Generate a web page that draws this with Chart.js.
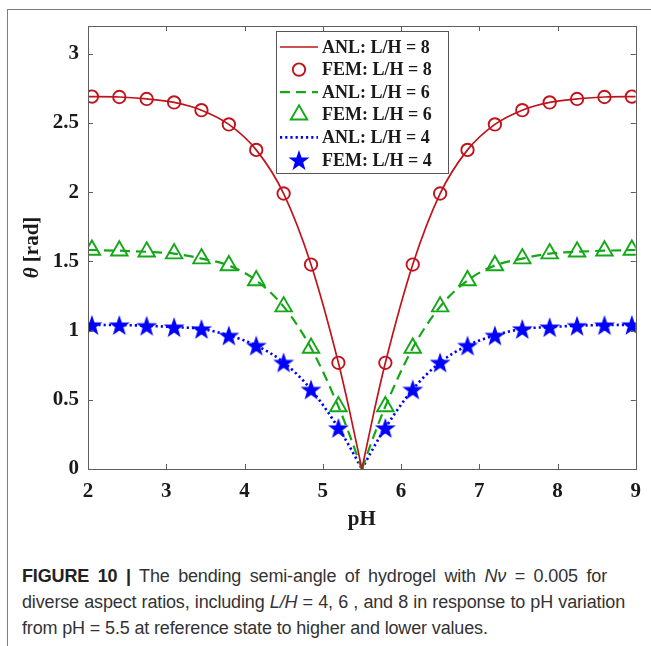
<!DOCTYPE html>
<html>
<head>
<meta charset="utf-8">
<script src="https://cdn.jsdelivr.net/npm/chart.js@4"></script>
<style>
  html, body { margin: 0; padding: 0; background: #fff; }
  body { width: 651px; height: 646px; position: relative; overflow: hidden; }
  .frame { position: absolute; left: 7px; top: 9px; width: 700px; height: 700px;
           border-left: 1.5px solid #7d7d7d; border-top: 1.5px solid #7d7d7d; }
  #wrap { position: absolute; left: 0; top: 0; width: 651px; height: 545px; }
  .caption { position: absolute; left: 22px; top: 563px; width: 603px; color: #333;
             font-family: "Liberation Sans Narrow", "Arial Narrow", sans-serif;
             font-size: 18px; line-height: 26px; letter-spacing: -0.15px; }
  .caption div { height: 26px; }
  .caption .j { text-align: justify; text-align-last: justify; }
  .caption .first { width: 585px; }
  .caption b { color: #222; }
</style>
</head>
<body>
<div class="frame"></div>
<div id="wrap"><canvas id="theta" width="651" height="545"></canvas></div>
<div class="caption">
  <div class="j first"><b>FIGURE 10 |</b> The bending semi-angle of hydrogel with <i>Nν</i> = 0.005 for</div>
  <div class="j">diverse aspect ratios, including <i>L/H</i> = 4, 6 , and 8 in response to pH variation</div>
  <div>from pH = 5.5 at reference state to higher and lower values.</div>
</div>
<script>
// FEM sample points (pH) and bending semi-angle (rad)
const femPH = [2.05, 2.4, 2.75, 3.1, 3.45, 3.8, 4.15, 4.5, 4.85, 5.2,
               5.8, 6.15, 6.5, 6.85, 7.2, 7.55, 7.9, 8.25, 8.6, 8.95];
const fem8 = [2.69, 2.687, 2.673, 2.648, 2.592, 2.489, 2.305, 1.99, 1.477, 0.767,
              0.767, 1.477, 1.99, 2.305, 2.489, 2.592, 2.648, 2.673, 2.687, 2.69];
const fem6 = [1.582, 1.577, 1.569, 1.556, 1.52, 1.47, 1.362, 1.173, 0.874, 0.452,
              0.452, 0.874, 1.173, 1.362, 1.47, 1.52, 1.556, 1.569, 1.577, 1.582];
const fem4 = [1.041, 1.04, 1.035, 1.025, 1.012, 0.965, 0.892, 0.77, 0.575, 0.297,
              0.297, 0.575, 0.77, 0.892, 0.965, 1.012, 1.025, 1.035, 1.04, 1.041];

// analytical curves
const anlPH = [2, 2.4, 2.75, 3.1, 3.45, 3.8, 4.15, 4.5, 4.85, 5.2, 5.35, 5.5,
               5.65, 5.8, 6.15, 6.5, 6.85, 7.2, 7.55, 7.9, 8.25, 8.6, 9];
const anl8 = [2.69, 2.687, 2.673, 2.648, 2.592, 2.489, 2.305, 1.99, 1.477, 0.767, 0.4, 0,
              0.4, 0.767, 1.477, 1.99, 2.305, 2.489, 2.592, 2.648, 2.673, 2.687, 2.69];
const anl6 = [1.582, 1.577, 1.569, 1.556, 1.52, 1.47, 1.362, 1.173, 0.874, 0.452, 0.235, 0,
              0.235, 0.452, 0.874, 1.173, 1.362, 1.47, 1.52, 1.556, 1.569, 1.577, 1.582];
const anl4 = [1.041, 1.04, 1.035, 1.025, 1.012, 0.965, 0.892, 0.77, 0.575, 0.297, 0.155, 0,
              0.155, 0.297, 0.575, 0.77, 0.892, 0.965, 1.012, 1.025, 1.035, 1.04, 1.041];

const xTicks = [2, 3, 4, 5, 6, 7, 8, 9];
const yTicks = [0, 0.5, 1, 1.5, 2, 2.5, 3];
const legendLabels = ['ANL: L/H = 8', 'FEM: L/H = 8', 'ANL: L/H = 6',
                      'FEM: L/H = 6', 'ANL: L/H = 4', 'FEM: L/H = 4'];

const RED = '#c0141c', GREEN = '#14a818', BLUE = '#0000ff';
const serif = 'Liberation Serif, Times New Roman, serif';

function pts(xs, ys) {
  return xs.map((v, i) => ({x: v, y: ys[i]}));
}
// left and right branches meet at the pH = 5.5 cusp
function branch(xs, ys, left) {
  return pts(xs, ys).filter(p => left ? p.x <= 5.5 : p.x >= 5.5);
}

// filled five-pointed star marker
function starMarker(r, color) {
  const c = document.createElement('canvas');
  const s = Math.ceil(2 * r + 2);
  c.width = s; c.height = s;
  const g = c.getContext('2d');
  g.translate(s / 2, s / 2 + 1);
  g.beginPath();
  for (let k = 0; k < 10; k++) {
    const rr = k % 2 ? r * 0.4 : r;
    const a = -Math.PI / 2 + k * Math.PI / 5;
    g.lineTo(rr * Math.cos(a), rr * Math.sin(a));
  }
  g.closePath();
  g.fillStyle = color;
  g.fill();
  return c;
}
const star = starMarker(11, BLUE);

function anlSet(label, xs, ys, left, color, width, dash) {
  return {
    label: label, data: branch(xs, ys, left), showLine: true,
    borderColor: color, borderWidth: width, borderDash: dash,
    pointRadius: 0, cubicInterpolationMode: 'monotone', fill: false
  };
}
function femSet(label, ys, style, radius, color) {
  return {
    label: label, data: pts(femPH, ys), showLine: false,
    pointStyle: style, pointRadius: radius, pointBorderWidth: 1.9,
    pointBorderColor: color, pointBackgroundColor: 'rgba(0,0,0,0)', borderColor: color
  };
}

const datasets = [
  anlSet(legendLabels[0], anlPH, anl8, true, RED, 1.7, []),
  femSet(legendLabels[1], fem8, 'circle', 6.2, RED),
  anlSet(legendLabels[2], anlPH, anl6, true, GREEN, 2.2, [10, 6]),
  femSet(legendLabels[3], fem6, 'triangle', 9.5, GREEN),
  anlSet(legendLabels[4], anlPH, anl4, true, BLUE, 2.6, [2.2, 3]),
  femSet(legendLabels[5], fem4, star, 11, BLUE),
  anlSet('', anlPH, anl8, false, RED, 1.7, []),
  anlSet('', anlPH, anl6, false, GREEN, 2.2, [10, 6]),
  anlSet('', anlPH, anl4, false, BLUE, 2.6, [2.2, 3])
];

// axes box with inward ticks, the y title and the legend inside the plot
const boxAndLegend = {
  id: 'boxAndLegend',
  afterDraw(chart) {
    const {ctx, chartArea: a, scales: {x, y}} = chart;
    ctx.save();
    ctx.strokeStyle = '#5e5e5e';
    ctx.lineWidth = 1;
    ctx.setLineDash([]);
    ctx.strokeRect(Math.round(a.left) + 0.5, Math.round(a.top) + 0.5,
                   Math.round(a.right - a.left), Math.round(a.bottom - a.top));
    const tl = 5;
    ctx.beginPath();
    x.ticks.forEach(t => {
      const px = Math.round(x.getPixelForValue(t.value)) + 0.5;
      ctx.moveTo(px, a.bottom); ctx.lineTo(px, a.bottom - tl);
      ctx.moveTo(px, a.top); ctx.lineTo(px, a.top + tl);
    });
    y.ticks.forEach(t => {
      const py = Math.round(y.getPixelForValue(t.value)) + 0.5;
      ctx.moveTo(a.left, py); ctx.lineTo(a.left + tl, py);
      ctx.moveTo(a.right, py); ctx.lineTo(a.right - tl, py);
    });
    ctx.stroke();

    // y axis title: italic theta, upright unit
    ctx.save();
    ctx.translate(33, (a.top + a.bottom) / 2);
    ctx.rotate(-Math.PI / 2);
    ctx.fillStyle = '#1a1a1a';
    ctx.textBaseline = 'middle';
    const f1 = 'italic bold 21px ' + serif, f2 = 'bold 21px ' + serif;
    ctx.font = f1; const w1 = ctx.measureText('θ').width;
    ctx.font = f2; const w2 = ctx.measureText(' [rad]').width;
    let sx = -(w1 + w2) / 2;
    ctx.font = f1; ctx.fillText('θ', sx, 0);
    ctx.font = f2; ctx.fillText(' [rad]', sx + w1, 0);
    ctx.restore();

    // legend
    const lx = a.left + 188, ly = a.top + 5, lw = 172, lh = 142;
    ctx.fillStyle = '#fff';
    ctx.fillRect(lx, ly, lw, lh);
    ctx.strokeStyle = '#555';
    ctx.strokeRect(lx + 0.5, ly + 0.5, lw, lh);
    ctx.font = 'bold 18px ' + serif;
    ctx.textBaseline = 'middle';
    legendLabels.forEach((lab, i) => {
      const ds = chart.data.datasets[i];
      const cy = ly + 16 + i * 22.6;
      const cx = lx + 23;
      if (ds.showLine) {
        ctx.strokeStyle = ds.borderColor;
        ctx.lineWidth = ds.borderWidth;
        ctx.setLineDash(ds.borderDash);
        ctx.beginPath();
        ctx.moveTo(lx + 4, cy); ctx.lineTo(lx + 42, cy);
        ctx.stroke();
        ctx.setLineDash([]);
      } else {
        ctx.strokeStyle = ds.pointBorderColor;
        ctx.fillStyle = ds.pointBackgroundColor;
        ctx.lineWidth = ds.pointBorderWidth;
        Chart.helpers.drawPoint(ctx, {
          pointStyle: ds.pointStyle, radius: ds.pointRadius,
          borderWidth: ds.pointBorderWidth, rotation: 0
        }, cx, cy);
      }
      ctx.fillStyle = '#1a1a1a';
      ctx.fillText(lab, lx + 46, cy + 1);
    });
    ctx.restore();
  }
};

const tickFont = {family: serif, weight: 'bold', size: 21};

new Chart(document.getElementById('theta'), {
  type: 'scatter',
  data: {datasets: datasets},
  options: {
    responsive: false,
    animation: false,
    layout: {padding: {left: 0, right: 15, top: 26, bottom: 13}},
    plugins: {legend: {display: false}, tooltip: {enabled: false}},
    scales: {
      x: {
        type: 'linear', min: 2, max: 9,
        afterBuildTicks: s => { s.ticks = xTicks.map(v => ({value: v})); },
        afterFit: s => { s.height = 63; },
        grid: {display: false, drawTicks: false},
        border: {display: false},
        ticks: {padding: 10, color: '#1a1a1a', font: tickFont, callback: v => String(v)},
        title: {display: true, text: 'pH', color: '#1a1a1a', padding: 0,
                font: {family: serif, weight: 'bold', size: 21}}
      },
      y: {
        type: 'linear', min: 0, max: 3.2,
        afterBuildTicks: s => { s.ticks = yTicks.map(v => ({value: v})); },
        afterFit: s => { s.width = 88; },
        grid: {display: false, drawTicks: false},
        border: {display: false},
        ticks: {padding: 9, color: '#1a1a1a', font: tickFont, callback: v => String(v)}
      }
    }
  },
  plugins: [boxAndLegend]
});
</script>
</body>
</html>
